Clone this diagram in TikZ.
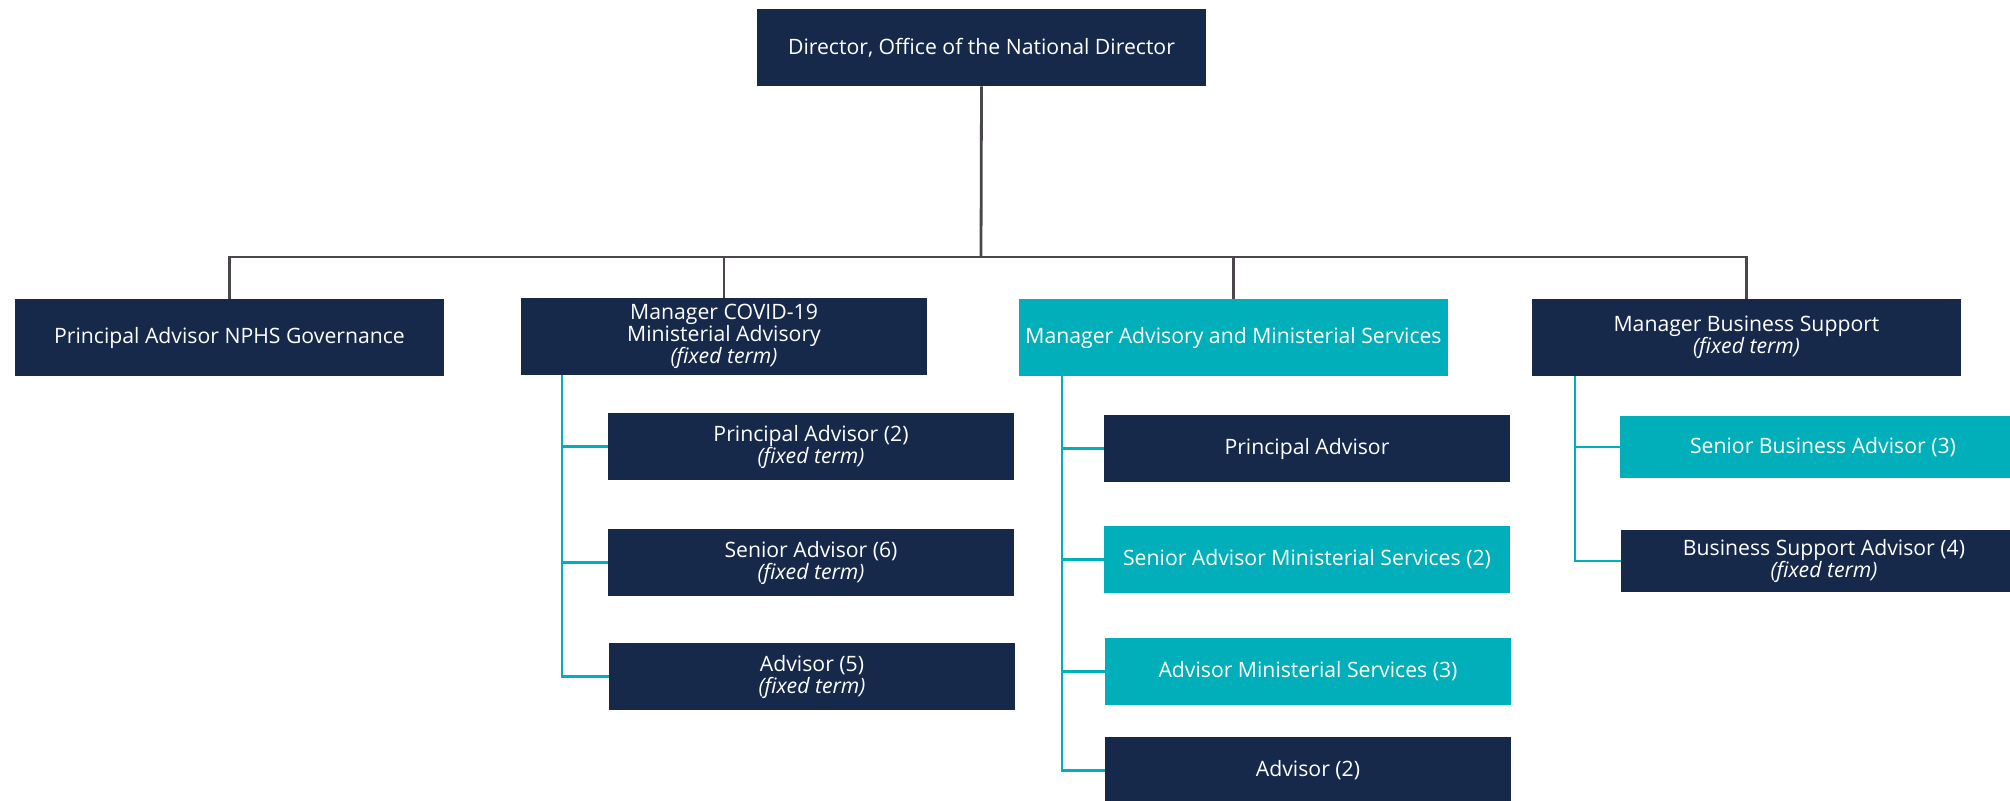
\documentclass[tikz,border=0pt]{standalone}
\usepackage{fontspec}
\setmainfont{Open Sans}
\definecolor{navy}{HTML}{16294A}
\definecolor{teal}{HTML}{00AFB9}
\definecolor{linegray}{HTML}{4A464C}
\begin{document}
\begin{tikzpicture}[x=0.5pt,y=-0.5pt,
  box/.style={rectangle,fill=navy,text=white,inner sep=0pt,align=center,
    font=\fontsize{10.6}{11}\selectfont},
  tbox/.style={box,fill=teal},
  mgr/.style={minimum height=38.5pt},
  sub/.style={minimum width=203pt,minimum height=33.5pt},
  dline/.style={draw=linegray,line width=1.4pt},
  tline/.style={draw=teal,line width=1.1pt}]
\useasboundingbox (0,0) rectangle (2010,801);
% top
\node[box,minimum width=224.5pt,minimum height=38.5pt] (dir) at (981.5,47.5) {Director, Office of the National Director};
% managers
\node[box,mgr,minimum width=214.5pt] (gov) at (229.5,337.5) {Principal Advisor NPHS Governance};
\node[box,mgr,minimum width=203pt] (cov) at (724,336.5) {Manager COVID-19\\Ministerial Advisory\\\textit{(fixed term)}};
\node[tbox,mgr,minimum width=214.5pt] (adv) at (1233.5,337.5) {Manager Advisory and Ministerial Services};
\node[box,mgr,minimum width=214.5pt] (bus) at (1746.5,337.5) {Manager Business Support\\\textit{(fixed term)}};
% covid children
\node[box,sub] (c1) at (811,446.5) {Principal Advisor (2)\\\textit{(fixed term)}};
\node[box,sub] (c2) at (811,562.5) {Senior Advisor (6)\\\textit{(fixed term)}};
\node[box,sub] (c3) at (812,676.5) {Advisor (5)\\\textit{(fixed term)}};
% advisory children
\node[box,sub] (a1) at (1307,448.5) {Principal Advisor};
\node[tbox,sub] (a2) at (1307,559.5) {Senior Advisor Ministerial Services (2)};
\node[tbox,sub] (a3) at (1308,671.5) {Advisor Ministerial Services (3)};
\node[box,sub] (a4) at (1308,770.5) {Advisor (2)};
% business children
\node[tbox,sub,minimum height=31pt] (b1) at (1823,447) {Senior Business Advisor (3)};
\node[box,sub,minimum height=31pt] (b2) at (1824,561) {Business Support Advisor (4)\\\textit{(fixed term)}};
% main connectors
\coordinate (busbar) at (981,257);
\draw[dline] (dir.south) -- (busbar);
\draw[dline] (gov.north) |- (busbar) -| (bus.north);
\draw[dline] (cov.north) -- (cov.north |- busbar);
\draw[dline] (adv.north) -- (adv.north |- busbar);
% teal connectors
\coordinate (cvx) at (562,375);
\coordinate (avx) at (1062,376);
\coordinate (bvx) at (1575,376);
\draw[tline] (cvx) |- (c3.west);
\draw[tline] (c1.west) -- (c1.west -| cvx);
\draw[tline] (c2.west) -- (c2.west -| cvx);
\draw[tline] (avx) |- (a4.west);
\draw[tline] (a1.west) -- (a1.west -| avx);
\draw[tline] (a2.west) -- (a2.west -| avx);
\draw[tline] (a3.west) -- (a3.west -| avx);
\draw[tline] (bvx) |- (b2.west);
\draw[tline] (b1.west) -- (b1.west -| bvx);
\end{tikzpicture}
\end{document}
